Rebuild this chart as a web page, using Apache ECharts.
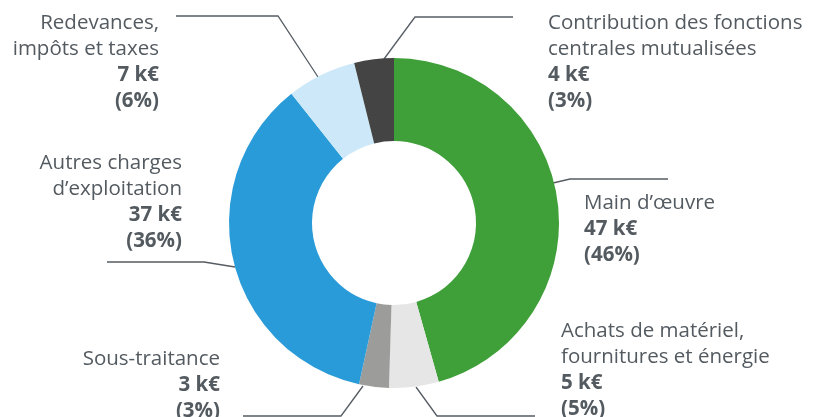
<!DOCTYPE html>
<html>
<head>
<meta charset="utf-8">
<script src="https://cdn.jsdelivr.net/npm/echarts@6/dist/echarts.min.js"></script>
<style>
  html, body { margin: 0; padding: 0; background: #ffffff; }
  #chart { width: 813px; height: 417px; }
</style>
</head>
<body>
<div id="chart"></div>
<script>
// Répartition des charges (k€), dans le sens horaire depuis midi
const categories = [
  "Main d\u2019\u0153uvre",
  "Achats de matériel,\nfournitures et énergie",
  "Sous-traitance",
  "Autres charges\nd\u2019exploitation",
  "Redevances,\nimpôts et taxes",
  "Contribution des fonctions\ncentrales mutualisées"
];
const amounts = [47, 5, 3, 37, 7, 4];
const shares = ["46%", "5%", "3%", "36%", "6%", "3%"];
const sliceColors = ["#3f9f39", "#e6e6e6", "#9c9c9b", "#2a9bd9", "#cce8f9", "#444444"];

// Emplacement de chaque bloc de texte et tracé de son filet
const labelPlacement = [
  { x: 584, y: 190, align: "left",  line: [[553, 183], [570, 179], [668, 179]] },
  { x: 561, y: 318, align: "left",  line: [[416, 387], [437, 416], [535, 416]] },
  { x: 220, y: 346, align: "right", line: [[363, 386], [341, 416], [243, 416]] },
  { x: 182, y: 150, align: "right", line: [[235, 267], [204, 262], [107, 262]] },
  { x: 159, y: 10,  align: "right", line: [[318, 77], [278, 16], [176, 16]] },
  { x: 548, y: 10,  align: "left",  line: [[384, 59], [415, 17], [513, 17]] }
];

const textColor = "#535a60";
const font = "'Open Sans', 'DejaVu Sans', sans-serif";

const chart = echarts.init(document.getElementById("chart"), null, { renderer: "canvas" });

chart.setOption({
  backgroundColor: "#ffffff",
  animation: false,
  series: [{
    type: "pie",
    center: [394, 223],
    radius: [82, 165],
    startAngle: 90,
    clockwise: true,
    avoidLabelOverlap: false,
    data: categories.map((name, i) => ({
      name: name,
      value: amounts[i],
      itemStyle: { color: sliceColors[i] }
    })),
    itemStyle: { borderWidth: 0 },
    emphasis: { disabled: true },
    label: {
      show: true,
      position: "outside",
      fontFamily: font,
      formatter: (p) => {
        const nameLines = p.name.split("\n").map(s => "{n|" + s + "}");
        return nameLines.concat(["{b|" + amounts[p.dataIndex] + " k\u20ac}", "{b|(" + shares[p.dataIndex] + ")}"]).join("\n");
      },
      rich: {
        n: { fontFamily: font, fontSize: 20.5, color: textColor, lineHeight: 26 },
        b: { fontFamily: font, fontSize: 20.5, fontWeight: "bold", color: textColor, lineHeight: 26 }
      }
    },
    labelLine: {
      show: true,
      lineStyle: { color: "#555c63", width: 1.3 }
    },
    labelLayout: (params) => {
      const p = labelPlacement[params.dataIndex];
      return {
        x: p.x,
        y: p.y,
        align: p.align,
        verticalAlign: "top",
        labelLinePoints: p.line
      };
    }
  }]
});
</script>
</body>
</html>
